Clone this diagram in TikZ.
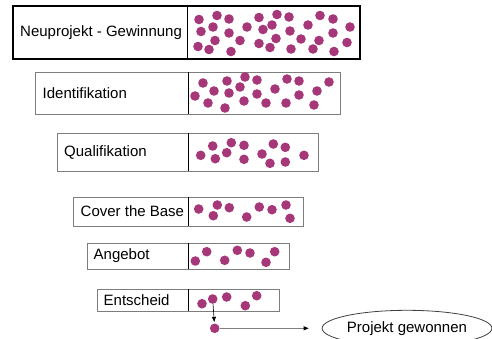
\documentclass[tikz,border=0pt]{standalone}
\usepackage{fontspec}
\setmainfont{Liberation Sans}
\usetikzlibrary{arrows.meta,shapes.geometric}
\definecolor{dotpurple}{RGB}{166,56,122}
\definecolor{boxgray}{RGB}{125,125,125}

\begin{document}
\begin{tikzpicture}[x=1pt,y=-1pt,
	stage/.style={draw=boxgray,line width=0.9pt},
	split/.style={draw=black,line width=0.9pt},
	lbl/.style={anchor=west,inner sep=0pt,font=\fontsize{15}{18}\selectfont},
	dot/.style={circle,fill=dotpurple,inner sep=0pt,minimum size=9.6pt},
	goal/.style={ellipse,draw=black!75,line width=0.8pt,minimum width=166pt,minimum height=36pt,inner sep=0pt,font=\fontsize{15}{18}\selectfont}]
	\useasboundingbox (0,0) rectangle (492,338);
	% Neuprojekt - Gewinnung
	\draw [line width=1.8pt] (13,6) rectangle (360,59);
	\draw [line width=1pt] (187,6) -- (187,59);
	\node[lbl] (neu) at (20,33) {Neuprojekt - Gewinnung};
	\foreach \x/\y in {199/19.5,217/15.5,229/19,213/27,201/31.5,229/33,247/27,259/17.5,277/14.5,263/29.5,
		272/25,215/40.5,240/40.5,198/46.5,209/49.5,231/51.5,259/43.5,270/47.5,276/38.5,289/17,
		290/31,308/25,320/15.5,333/19,350/27,333/33,301/39,319/40.5,347/42.5,291/49,313/49,334/51.5}
		\fill[dotpurple] (\x,\y) circle (4.8pt);
	% Identifikation
	\draw [stage] (35,72) rectangle (340,114);
	\draw [split] (188,72) -- (188,114);
	\node[lbl] (ident) at (42.5,93) {Identifikation};
	\foreach \x/\y in {195/96,203/83,214/91,208/103,227/81,229/93,225/108,245/77,240/87,257/80,
		257/94,244/101,266/103,275/89,287/79,299/81,299/95,286/103,317/91,329/82,314/105}
		\fill[dotpurple] (\x,\y) circle (4.8pt);
	% Qualifikation
	\draw [stage] (57,133) rectangle (318,171);
	\draw [split] (188,133) -- (188,171);
	\node[lbl] (quali) at (64,152) {Qualifikation};
	\foreach \x/\y in {200.7/155.3,212.7/146,215.3/158.7,226.7/152.7,231.3/142.7,244/145.3,244/159.3,
		262/154,273.3/144,285.3/147.3,270/163.3,285.3/162,304/155.3}
		\fill[dotpurple] (\x,\y) circle (4.8pt);
	% Cover the Base
	\draw [stage] (73,197) rectangle (303,226);
	\draw [split] (188,197) -- (188,226);
	\node[lbl] (cover) at (80.5,211.5) {Cover the Base};
	\foreach \x/\y in {198.7/209,217.3/205,213.3/215.7,229.3/207.7,246.7/217,259.3/207,272/209.7,286/205,290/218.3}
		\fill[dotpurple] (\x,\y) circle (4.8pt);
	% Angebot
	\draw [stage] (87,243) rectangle (289,269);
	\draw [split] (188,243) -- (188,269);
	\node[lbl] (angebot) at (93.5,256) {Angebot};
	\foreach \x/\y in {195.3/261,206.7/251.7,224.7/260.3,237.3/250.3,250/253,266/262.3,274.7/251.7}
		\fill[dotpurple] (\x,\y) circle (4.8pt);
	% Entscheid
	\draw [stage] (97,289) rectangle (279,311);
	\draw [split] (188,289) -- (188,311);
	\node[lbl] (entscheid) at (103.5,300) {Entscheid};
	\foreach \x/\y in {202/303.7,226.7/297,245.3/305.7,256.7/295.7}
		\fill[dotpurple] (\x,\y) circle (4.8pt);
	\node[dot] (pick) at (212.7,299) {};
	% gewonnen
	\node[dot] (win) at (214.7,328.3) {};
	\node[goal] (goal) at (407,328.3) {Projekt gewonnen};
	\draw [line width=0.6pt,-{Triangle[length=5pt,width=4pt]},shorten >=1.5pt] (pick) -- (win);
	\draw [draw=black!50,line width=1pt,-{Triangle[black,length=5pt,width=4pt]},shorten >=13pt] (win) -- (goal);
\end{tikzpicture}
\end{document}
